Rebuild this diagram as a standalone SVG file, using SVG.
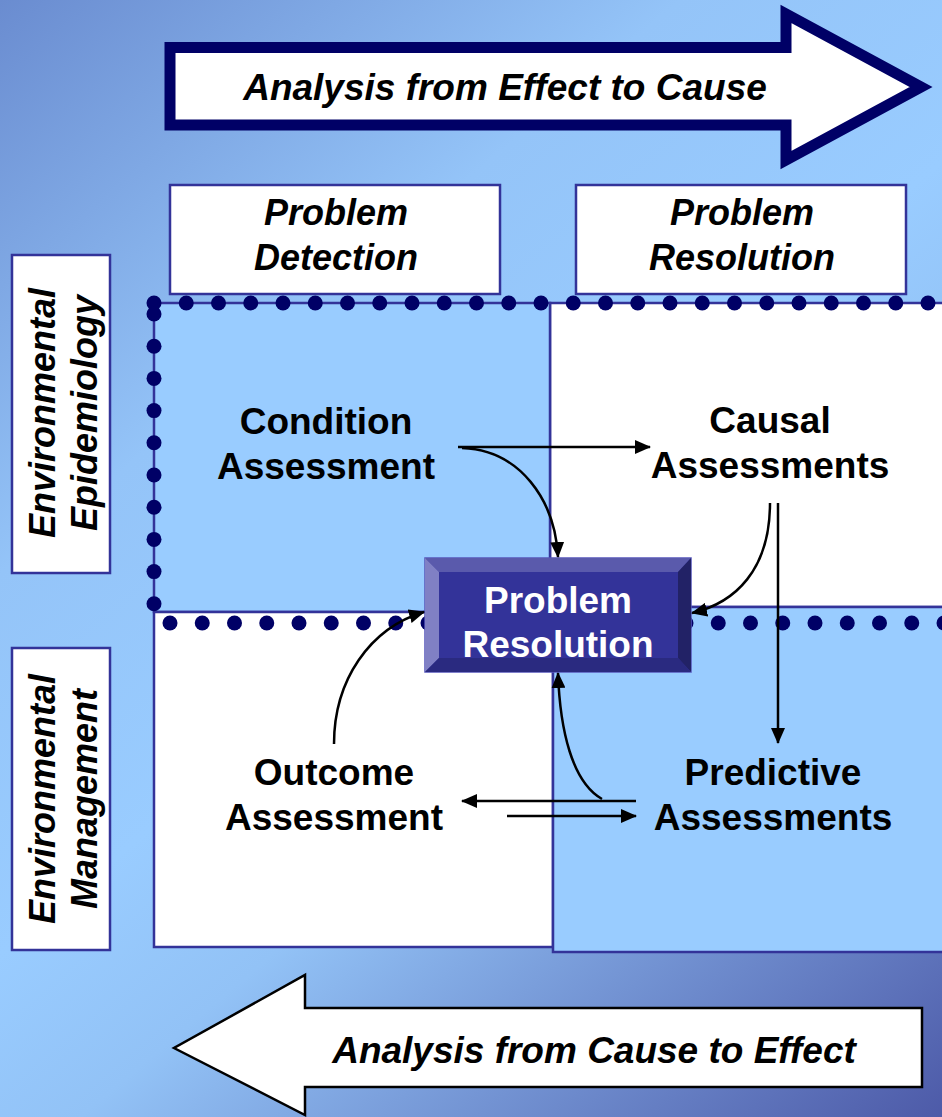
<svg xmlns="http://www.w3.org/2000/svg" width="942" height="1117" viewBox="0 0 942 1117">
  <defs>
    <linearGradient id="bg" gradientUnits="userSpaceOnUse" x1="0" y1="0" x2="942" y2="1117">
      <stop offset="0" stop-color="#6a8cd0"/>
      <stop offset="0.3" stop-color="#94c4f8"/>
      <stop offset="0.5" stop-color="#99ccff"/>
      <stop offset="0.62" stop-color="#92c2f6"/>
      <stop offset="1" stop-color="#4d5aa8"/>
    </linearGradient>
    <marker id="ah" markerUnits="userSpaceOnUse" markerWidth="16" markerHeight="14" refX="15" refY="7" orient="auto">
      <path d="M0,0 L16,7 L0,14 Z" fill="#000"/>
    </marker>
    <style>
      .hdr { fill: #ffffff; stroke: #333399; stroke-width: 2.5; }
      .it { font-family: "Liberation Sans", Arial, sans-serif; font-weight: bold; font-style: italic; font-size: 36px; fill: #000; text-anchor: middle; }
      .big { font-size: 37px; }
      .lbl { font-family: "Liberation Sans", Arial, sans-serif; font-weight: bold; font-size: 37px; fill: #000; text-anchor: middle; }
      .wl { font-family: "Liberation Sans", Arial, sans-serif; font-weight: bold; font-size: 37px; fill: #ffffff; text-anchor: middle; }
      .quad { stroke: #333399; stroke-width: 2.5; }
      .dot { fill: #000066; }
      .con { fill: none; stroke: #000; stroke-width: 2.5; marker-end: url(#ah); }
    </style>
  </defs>

  <rect x="0" y="0" width="942" height="1117" fill="url(#bg)"/>

  <!-- Top arrow -->
  <g id="arrow-effect-to-cause">
    <path d="M170,47.5 L786,47.5 L786,14 L921,87 L786,160 L786,125 L170,125 Z" fill="#ffffff" stroke="#000066" stroke-width="11" stroke-linejoin="miter"/>
    <text class="it big" x="505" y="100">Analysis from Effect to Cause</text>
  </g>

  <!-- Column headers -->
  <g id="hdr-detection">
    <rect class="hdr" x="170" y="185" width="330" height="109"/>
    <text class="it" x="336" y="225">Problem</text>
    <text class="it" x="336" y="270">Detection</text>
  </g>
  <g id="hdr-resolution">
    <rect class="hdr" x="576" y="185" width="330" height="109"/>
    <text class="it" x="742" y="225">Problem</text>
    <text class="it" x="742" y="270">Resolution</text>
  </g>

  <!-- Row headers -->
  <g id="hdr-epidemiology">
    <rect class="hdr" x="12" y="255" width="98" height="318"/>
    <text class="it" transform="translate(55,413) rotate(-90)">Environmental</text>
    <text class="it" transform="translate(97,413) rotate(-90)">Epidemiology</text>
  </g>
  <g id="hdr-management">
    <rect class="hdr" x="12" y="648" width="98" height="302"/>
    <text class="it" transform="translate(55,799) rotate(-90)">Environmental</text>
    <text class="it" transform="translate(97,799) rotate(-90)">Management</text>
  </g>

  <!-- Quadrants -->
  <g id="quad-top-right">
    <rect class="quad" x="550" y="303" width="400" height="304" fill="#ffffff"/>
  </g>
  <g id="quad-top-left">
    <rect class="quad" x="154" y="303" width="396" height="309" fill="#99ccff"/>
  </g>
  <g id="quad-bottom-left">
    <rect class="quad" x="154" y="612" width="399" height="335" fill="#ffffff"/>
  </g>
  <g id="quad-bottom-right">
    <rect class="quad" x="553" y="607" width="400" height="345" fill="#99ccff"/>
  </g>

  <!-- Dotted boundaries -->
  <g id="dots" class="dot">
    <circle cx="154" cy="303" r="7.5"/><circle cx="186.25" cy="303" r="7.5"/><circle cx="218.5" cy="303" r="7.5"/><circle cx="250.75" cy="303" r="7.5"/><circle cx="283" cy="303" r="7.5"/><circle cx="315.25" cy="303" r="7.5"/><circle cx="347.5" cy="303" r="7.5"/><circle cx="379.75" cy="303" r="7.5"/><circle cx="412" cy="303" r="7.5"/><circle cx="444.25" cy="303" r="7.5"/><circle cx="476.5" cy="303" r="7.5"/><circle cx="508.75" cy="303" r="7.5"/><circle cx="541" cy="303" r="7.5"/><circle cx="573.25" cy="303" r="7.5"/><circle cx="605.5" cy="303" r="7.5"/><circle cx="637.75" cy="303" r="7.5"/><circle cx="670" cy="303" r="7.5"/><circle cx="702.25" cy="303" r="7.5"/><circle cx="734.5" cy="303" r="7.5"/><circle cx="766.75" cy="303" r="7.5"/><circle cx="799" cy="303" r="7.5"/><circle cx="831.25" cy="303" r="7.5"/><circle cx="863.5" cy="303" r="7.5"/><circle cx="895.75" cy="303" r="7.5"/><circle cx="928" cy="303" r="7.5"/>
    <circle cx="154" cy="314" r="7.5"/><circle cx="154" cy="346.2" r="7.5"/><circle cx="154" cy="378.4" r="7.5"/><circle cx="154" cy="410.6" r="7.5"/><circle cx="154" cy="442.8" r="7.5"/><circle cx="154" cy="475" r="7.5"/><circle cx="154" cy="507.2" r="7.5"/><circle cx="154" cy="539.4" r="7.5"/><circle cx="154" cy="571.6" r="7.5"/><circle cx="154" cy="603.8" r="7.5"/>
    <circle cx="170" cy="623" r="7.5"/><circle cx="202.25" cy="623" r="7.5"/><circle cx="234.5" cy="623" r="7.5"/><circle cx="266.75" cy="623" r="7.5"/><circle cx="299" cy="623" r="7.5"/><circle cx="331.25" cy="623" r="7.5"/><circle cx="363.5" cy="623" r="7.5"/><circle cx="395.75" cy="623" r="7.5"/><circle cx="428" cy="623" r="7.5"/><circle cx="686" cy="623" r="7.5"/><circle cx="718.25" cy="623" r="7.5"/><circle cx="750.5" cy="623" r="7.5"/><circle cx="782.75" cy="623" r="7.5"/><circle cx="815" cy="623" r="7.5"/><circle cx="847.25" cy="623" r="7.5"/><circle cx="879.5" cy="623" r="7.5"/><circle cx="911.75" cy="623" r="7.5"/><circle cx="944" cy="623" r="7.5"/>
  </g>

  <!-- Central node -->
  <g id="problem-resolution">
    <rect x="425" y="558" width="266" height="114" fill="#333399" stroke="#5555bb" stroke-width="1.5"/>
    <polygon points="425,558 691,558 678,572 439,572" fill="#5a5aac"/>
    <polygon points="425,558 439,572 439,658 425,672" fill="#8080c4"/>
    <polygon points="691,558 691,672 678,658 678,572" fill="#222266"/>
    <polygon points="425,672 439,658 678,658 691,672" fill="#2a2a80"/>
    <rect x="439" y="572" width="239" height="86" fill="#333399"/>
    <text class="wl" x="558" y="613">Problem</text>
    <text class="wl" x="558" y="657">Resolution</text>
  </g>

  <!-- Labels -->
  <g id="condition-assessment">
    <text class="lbl" x="326" y="434">Condition</text>
    <text class="lbl" x="326" y="479">Assessment</text>
  </g>
  <g id="causal-assessments">
    <text class="lbl" x="770" y="433">Causal</text>
    <text class="lbl" x="770" y="478">Assessments</text>
  </g>
  <g id="outcome-assessment">
    <text class="lbl" x="334" y="785">Outcome</text>
    <text class="lbl" x="334" y="830">Assessment</text>
  </g>
  <g id="predictive-assessments">
    <text class="lbl" x="773" y="785">Predictive</text>
    <text class="lbl" x="773" y="830">Assessments</text>
  </g>

  <!-- Connectors -->
  <g id="connectors">
    <path class="con" d="M458,447 L650,447"/>
    <path class="con" d="M462,448 C520,450 555,500 558,557"/>
    <path class="con" d="M770,503 C770,570 735,603 692,613"/>
    <path class="con" d="M778,503 L778,743"/>
    <path class="con" d="M636,801 L462,801"/>
    <path class="con" d="M507,816 L636,816"/>
    <path class="con" d="M602,799 C572,782 560,730 558,673"/>
    <path class="con" d="M334,744 C334,680 370,628 424,612"/>
  </g>

  <!-- Bottom arrow -->
  <g id="arrow-cause-to-effect">
    <path d="M922,1008 L305,1008 L305,975 L174,1048 L305,1115 L305,1087 L922,1087 Z" fill="#ffffff" stroke="#000000" stroke-width="2.5" stroke-linejoin="miter"/>
    <text class="it big" x="594" y="1063">Analysis from Cause to Effect</text>
  </g>
</svg>
